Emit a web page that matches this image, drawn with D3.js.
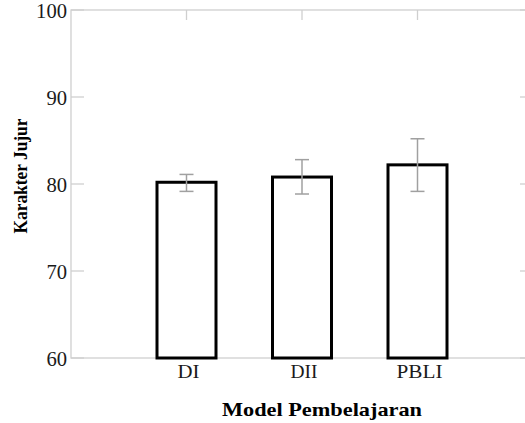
<!DOCTYPE html>
<html><head><meta charset="utf-8">
<script src="https://cdn.jsdelivr.net/npm/d3@7"></script>
<style>body{margin:0;background:#fff}svg{display:block}</style>
</head><body>
<svg id="c" width="525" height="423"></svg>
<script>
const categories = ["DI", "DII", "PBLI"];
const means = [80.2, 80.8, 82.2];
const errUpper = [81.1, 82.8, 85.2];
const errLower = [79.15, 78.85, 79.15];
const yTicks = [60, 70, 80, 90, 100];
const xTitle = "Model Pembelajaran";
const yTitle = "Karakter Jujur";

const FONT = "'Liberation Serif', 'DejaVu Serif', serif";
const svg = d3.select("#c").style("font-family", FONT);
const L = 71, R = 533, T = 10, B = 358;
const x = d3.scaleLinear().domain([0, categories.length + 1]).range([L, R]);
const y = d3.scaleLinear().domain([60, 100]).range([B, T]);
const axisCol = "#cfcfcf";

svg.append("rect").attr("x", L).attr("y", T).attr("width", R - L).attr("height", B - T)
  .attr("fill", "none").attr("stroke", axisCol).attr("stroke-width", 1.3);

yTicks.forEach(v => {
  svg.append("line").attr("x1", L).attr("x2", L + 13).attr("y1", y(v)).attr("y2", y(v))
    .attr("stroke", axisCol).attr("stroke-width", 1.3);
  svg.append("line").attr("x1", R).attr("x2", R - 13).attr("y1", y(v)).attr("y2", y(v))
    .attr("stroke", axisCol).attr("stroke-width", 1.3);
  const s = String(v);
  svg.append("text").attr("x", L - 4).attr("y", y(v) + 8)
    .attr("text-anchor", "end").attr("font-size", 20)
    .attr("textLength", s.length * 10.3).attr("lengthAdjust", "spacingAndGlyphs")
    .attr("fill", "#1a1a1a").text(s);
});

const bw = 59;
const g = svg.append("g");
const labelW = [22, 27, 46];
categories.forEach((c, i) => {
  const cx = x(i + 1);
  g.append("line").attr("x1", cx).attr("x2", cx).attr("y1", B).attr("y2", B - 10)
    .attr("stroke", axisCol).attr("stroke-width", 1.3);
  g.append("line").attr("x1", cx).attr("x2", cx).attr("y1", T).attr("y2", T + 10)
    .attr("stroke", axisCol).attr("stroke-width", 1.3);
  g.append("rect").attr("x", cx - bw / 2).attr("y", y(means[i]))
    .attr("width", bw).attr("height", y(60) - y(means[i]))
    .attr("fill", "#fff").attr("stroke", "#000").attr("stroke-width", 3);
  const ec = "#a0a0a0";
  g.append("line").attr("x1", cx).attr("x2", cx).attr("y1", y(errUpper[i])).attr("y2", y(errLower[i]))
    .attr("stroke", ec).attr("stroke-width", 1.5);
  [errUpper[i], errLower[i]].forEach(v => {
    g.append("line").attr("x1", cx - 7).attr("x2", cx + 7).attr("y1", y(v)).attr("y2", y(v))
      .attr("stroke", ec).attr("stroke-width", 1.5);
  });
  g.append("text").attr("x", cx + 2).attr("y", B + 20).attr("text-anchor", "middle")
    .attr("font-size", 19).attr("textLength", labelW[i]).attr("lengthAdjust", "spacingAndGlyphs")
    .attr("fill", "#1a1a1a").text(c);
});

svg.append("text").attr("x", 322).attr("y", 416).attr("text-anchor", "middle")
  .attr("font-size", 19).attr("font-weight", "bold")
  .attr("textLength", 200).attr("lengthAdjust", "spacingAndGlyphs").text(xTitle);
svg.append("text").attr("transform", "translate(27,176) rotate(-90)").attr("text-anchor", "middle")
  .attr("font-size", 19).attr("font-weight", "bold")
  .attr("textLength", 115).attr("lengthAdjust", "spacingAndGlyphs").text(yTitle);
</script>
</body></html>
